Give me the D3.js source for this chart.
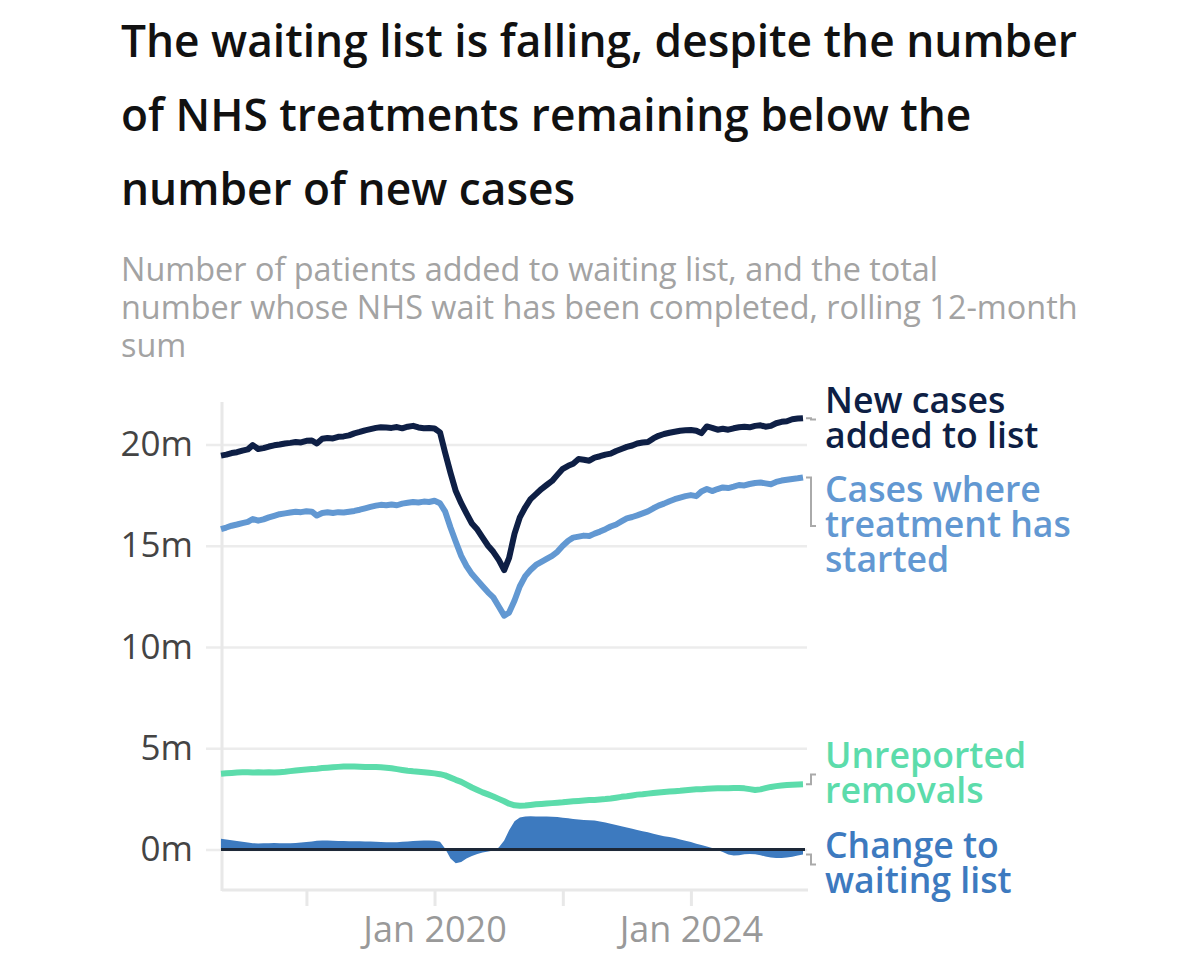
<!DOCTYPE html>
<html>
<head>
<meta charset="utf-8">
<script src="https://cdn.jsdelivr.net/npm/d3@7"></script>
<style>
  body { margin: 0; background: #fff; }
  svg { display: block; font-family: "Open Sans", sans-serif; }
</style>
</head>
<body>
<svg id="chart" width="1200" height="966"></svg>
<script>
// monthly, rolling 12-month sums, millions; first value is Sep 2016
var startMonth = "2016-09";

var newCases = [
  19.45, 19.5, 19.58, 19.62, 19.7, 19.76, 19.97, 19.78, 19.82, 19.9, 19.96, 20.0,
  20.05, 20.08, 20.12, 20.1, 20.18, 20.2, 20.05, 20.28, 20.32, 20.3, 20.38, 20.4,
  20.45, 20.55, 20.62, 20.7, 20.76, 20.82, 20.85, 20.84, 20.82, 20.86, 20.8, 20.88,
  20.92, 20.84, 20.8, 20.81, 20.79, 20.6, 19.6, 18.6, 17.7, 17.1, 16.6, 16.1,
  15.8, 15.4, 15.0, 14.7, 14.3, 13.8, 14.4, 15.6, 16.4, 16.9, 17.3, 17.55,
  17.8, 18.0, 18.2, 18.5, 18.8, 18.95, 19.05, 19.28, 19.25, 19.2, 19.35, 19.42,
  19.5, 19.55, 19.68, 19.78, 19.88, 19.95, 20.05, 20.1, 20.12, 20.3, 20.43, 20.52,
  20.58, 20.63, 20.68, 20.7, 20.72, 20.68, 20.56, 20.89, 20.82, 20.73, 20.78, 20.73,
  20.8, 20.85, 20.88, 20.85, 20.92, 20.95, 20.88, 20.92, 21.05, 21.12, 21.15, 21.25,
  21.28, 21.3
];

var treatmentStarted = [
  15.82, 15.9, 15.99, 16.05, 16.12, 16.18, 16.32, 16.24, 16.3, 16.4, 16.48, 16.56,
  16.6, 16.64, 16.68, 16.66, 16.7, 16.68, 16.49, 16.62, 16.65, 16.62, 16.66, 16.64,
  16.68, 16.72, 16.78, 16.85, 16.92, 16.98, 17.02, 17.0, 17.04, 17.0, 17.08, 17.12,
  17.16, 17.14, 17.18, 17.16, 17.22, 17.1, 16.7, 15.9, 15.2, 14.5, 14.0, 13.6,
  13.3, 13.0, 12.7, 12.45, 12.0, 11.55, 11.7, 12.3, 13.0, 13.5, 13.8, 14.05,
  14.2, 14.35, 14.5, 14.7, 15.0, 15.25, 15.4, 15.45, 15.5, 15.48, 15.6, 15.7,
  15.82, 15.95, 16.05, 16.2, 16.35, 16.42, 16.5, 16.6, 16.7, 16.85, 16.98, 17.08,
  17.2, 17.3, 17.38, 17.45, 17.5, 17.45, 17.68, 17.8, 17.7, 17.8, 17.88, 17.85,
  17.92, 18.0, 17.98, 18.05, 18.1, 18.12, 18.08, 18.04, 18.15, 18.22, 18.26, 18.3,
  18.33, 18.37
];

var unreportedRemovals = [
  3.74, 3.76, 3.78, 3.8, 3.81, 3.82, 3.8, 3.81, 3.8, 3.81, 3.8, 3.82,
  3.84, 3.87, 3.9, 3.93, 3.95, 3.97, 3.99, 4.02, 4.04, 4.06, 4.08, 4.1,
  4.1, 4.1, 4.09, 4.08, 4.08, 4.07, 4.06, 4.04, 4.01, 3.97, 3.93, 3.89,
  3.86, 3.84, 3.82, 3.79, 3.76, 3.72, 3.66, 3.55, 3.44, 3.34, 3.2, 3.06,
  2.94, 2.82, 2.72, 2.62, 2.5, 2.38, 2.26, 2.18, 2.16, 2.17, 2.2, 2.23,
  2.25, 2.27, 2.29, 2.31, 2.33, 2.36, 2.38, 2.4, 2.42, 2.44, 2.45, 2.47,
  2.49, 2.52, 2.56, 2.6, 2.63, 2.67, 2.71, 2.73, 2.76, 2.79, 2.82, 2.84,
  2.86, 2.88, 2.9, 2.93, 2.95, 2.97, 2.98, 3.0, 3.01, 3.02, 3.03, 3.03,
  3.04, 3.04, 3.02, 2.98, 2.94, 2.97, 3.03, 3.09, 3.13, 3.16, 3.18, 3.2,
  3.21, 3.22
];

var waitingListChange = [
  0.53, 0.5, 0.46, 0.42, 0.38, 0.34, 0.31, 0.3, 0.31, 0.31, 0.32, 0.31,
  0.31, 0.31, 0.32, 0.34, 0.37, 0.4, 0.43, 0.44, 0.44, 0.43, 0.42, 0.42,
  0.41, 0.41, 0.41, 0.4, 0.39, 0.38, 0.37, 0.36, 0.36, 0.36, 0.38, 0.4,
  0.42, 0.43, 0.44, 0.44, 0.43, 0.38, 0.05, -0.45, -0.68, -0.62, -0.45, -0.32,
  -0.22, -0.15, -0.1, -0.05, 0.1, 0.45, 0.95, 1.4, 1.58, 1.63, 1.64, 1.63,
  1.63, 1.63, 1.62, 1.6, 1.57, 1.54, 1.51, 1.48, 1.46, 1.44, 1.43, 1.38,
  1.33, 1.27, 1.21, 1.15, 1.09, 1.03, 0.96, 0.9, 0.85, 0.78, 0.72, 0.66,
  0.62, 0.57, 0.5, 0.43, 0.37, 0.29, 0.22, 0.15, 0.07, -0.02, -0.12, -0.25,
  -0.3, -0.28, -0.24, -0.22, -0.24, -0.28, -0.35, -0.4, -0.42, -0.42, -0.4, -0.36,
  -0.3, -0.25
];

var yTicks = [0, 5, 10, 15, 20];
var xTicks = ["2018-01", "2020-01", "2022-01", "2024-01"];
var xTickLabels = ["", "Jan 2020", "", "Jan 2024"];

var titleLines = [
  "The waiting list is falling, despite the number",
  "of NHS treatments remaining below the",
  "number of new cases"
];
var subtitleLines = [
  "Number of patients added to waiting list, and the total",
  "number whose NHS wait has been completed, rolling 12-month",
  "sum"
];
var seriesLabels = [
  ["New cases", "added to list"],
  ["Cases where", "treatment has", "started"],
  ["Unreported", "removals"],
  ["Change to", "waiting list"]
];

var parseMonth = d3.timeParse("%Y-%m");
var dates = newCases.map(function(d, i) {
    return d3.timeMonth.offset(parseMonth(startMonth), i);
});

var svg = d3.select("#chart");

// scale a font size so that a sample string spans the wanted width
function fitSize(text, weight, target) {
    var t = svg.append("text")
        .attr("font-size", 40)
        .attr("font-weight", weight)
        .text(text);
    var w = t.node().getComputedTextLength();
    t.remove();
    return 40 * target / w;
}

// one text element, one tspan per line
function multiLine(x0, y0, lines, step) {
    var t = svg.append("text").attr("x", x0).attr("y", y0);
    t.selectAll("tspan")
        .data(lines)
        .join("tspan")
        .attr("x", x0)
        .attr("y", function(d, i) { return y0 + i * step; })
        .text(function(d) { return d; });
    return t;
}

// title + subtitle
multiLine(121, 57, titleLines, 74)
    .attr("font-size", fitSize(titleLines[0], 600, 956))
    .attr("font-weight", 600)
    .attr("fill", "#111");

multiLine(121, 281, subtitleLines, 38)
    .attr("font-size", fitSize(subtitleLines[1], 400, 957))
    .attr("fill", "#a3a3a3");

var x = d3.scaleTime().domain(d3.extent(dates)).range([221, 803]);
var y = d3.scaleLinear().domain([-2, 22]).range([890, 404]);

// y grid + labels
var yAxis = svg.append("g")
    .attr("transform", "translate(206,0)")
    .call(d3.axisLeft(y)
        .tickValues(yTicks)
        .tickSize(-601)
        .tickPadding(13)
        .tickFormat(function(d) { return d + "m"; }));
yAxis.select(".domain").remove();
yAxis.selectAll(".tick line").attr("stroke", "#ececec").attr("stroke-width", 2.5);
yAxis.selectAll(".tick text")
    .attr("font-size", 35)
    .attr("font-family", "Open Sans, sans-serif")
    .attr("fill", "#444");

// axis lines
svg.append("line")
    .attr("x1", 222).attr("x2", 222)
    .attr("y1", 402).attr("y2", 891)
    .attr("stroke", "#e8e8e8").attr("stroke-width", 3);

var xAxis = svg.append("g")
    .attr("transform", "translate(0,890)")
    .call(d3.axisBottom(x)
        .tickValues(xTicks.map(parseMonth))
        .tickSize(16)
        .tickPadding(10)
        .tickFormat(function(d, i) { return xTickLabels[i]; }));
xAxis.select(".domain").remove();
xAxis.selectAll(".tick line").attr("stroke", "#e8e8e8").attr("stroke-width", 3);
xAxis.selectAll(".tick text")
    .attr("font-size", 36)
    .attr("font-family", "Open Sans, sans-serif")
    .attr("fill", "#999");
svg.append("line")
    .attr("x1", 222).attr("x2", 808)
    .attr("y1", 890).attr("y2", 890)
    .attr("stroke", "#e8e8e8").attr("stroke-width", 3);

// change to waiting list area
var area = d3.area()
    .x(function(d, i) { return x(dates[i]); })
    .y0(y(0))
    .y1(function(d) { return y(d); });

svg.append("path")
    .datum(waitingListChange)
    .attr("d", area)
    .attr("fill", "#3d7abf");

svg.append("line")
    .attr("x1", x(dates[0])).attr("x2", x(dates[dates.length - 1]) + 2)
    .attr("y1", y(0)).attr("y2", y(0))
    .attr("stroke", "#1d2838").attr("stroke-width", 3);

var line = d3.line()
    .x(function(d, i) { return x(dates[i]); })
    .y(function(d) { return y(d); });

var series = [
    {values: waitingListChange, color: "#3d7abf", drawLine: false, labelY: 858},
    {values: unreportedRemovals, color: "#5cdcab", drawLine: true, labelY: 768},
    {values: treatmentStarted, color: "#6298d2", drawLine: true, labelY: 502},
    {values: newCases, color: "#0e1f45", drawLine: true, labelY: 413}
];
var labelIndex = [3, 2, 1, 0];

series.forEach(function(s) {
    if (!s.drawLine) return;
    svg.append("path")
        .datum(s.values)
        .attr("d", line)
        .attr("fill", "none")
        .attr("stroke", s.color)
        .attr("stroke-width", 6)
        .attr("stroke-linejoin", "round");
});

// end labels with connectors
var labelSize = fitSize("treatment has", 600, 246);
var xEnd = x(dates[dates.length - 1]);
series.forEach(function(s, k) {
    var lines = seriesLabels[labelIndex[k]];
    var yLast = y(s.values[s.values.length - 1]);
    var yMid = s.labelY + (lines.length - 1) * 35 / 2 - 11;
    svg.append("path")
        .attr("d", "M" + (xEnd + 3) + "," + yLast + "H811V" + yMid + "H816")
        .attr("fill", "none")
        .attr("stroke", "#aaa")
        .attr("stroke-width", 2);
    multiLine(825, s.labelY, lines, 35)
        .attr("font-size", labelSize)
        .attr("font-weight", 600)
        .attr("fill", s.color);
});
</script>
</body>
</html>
